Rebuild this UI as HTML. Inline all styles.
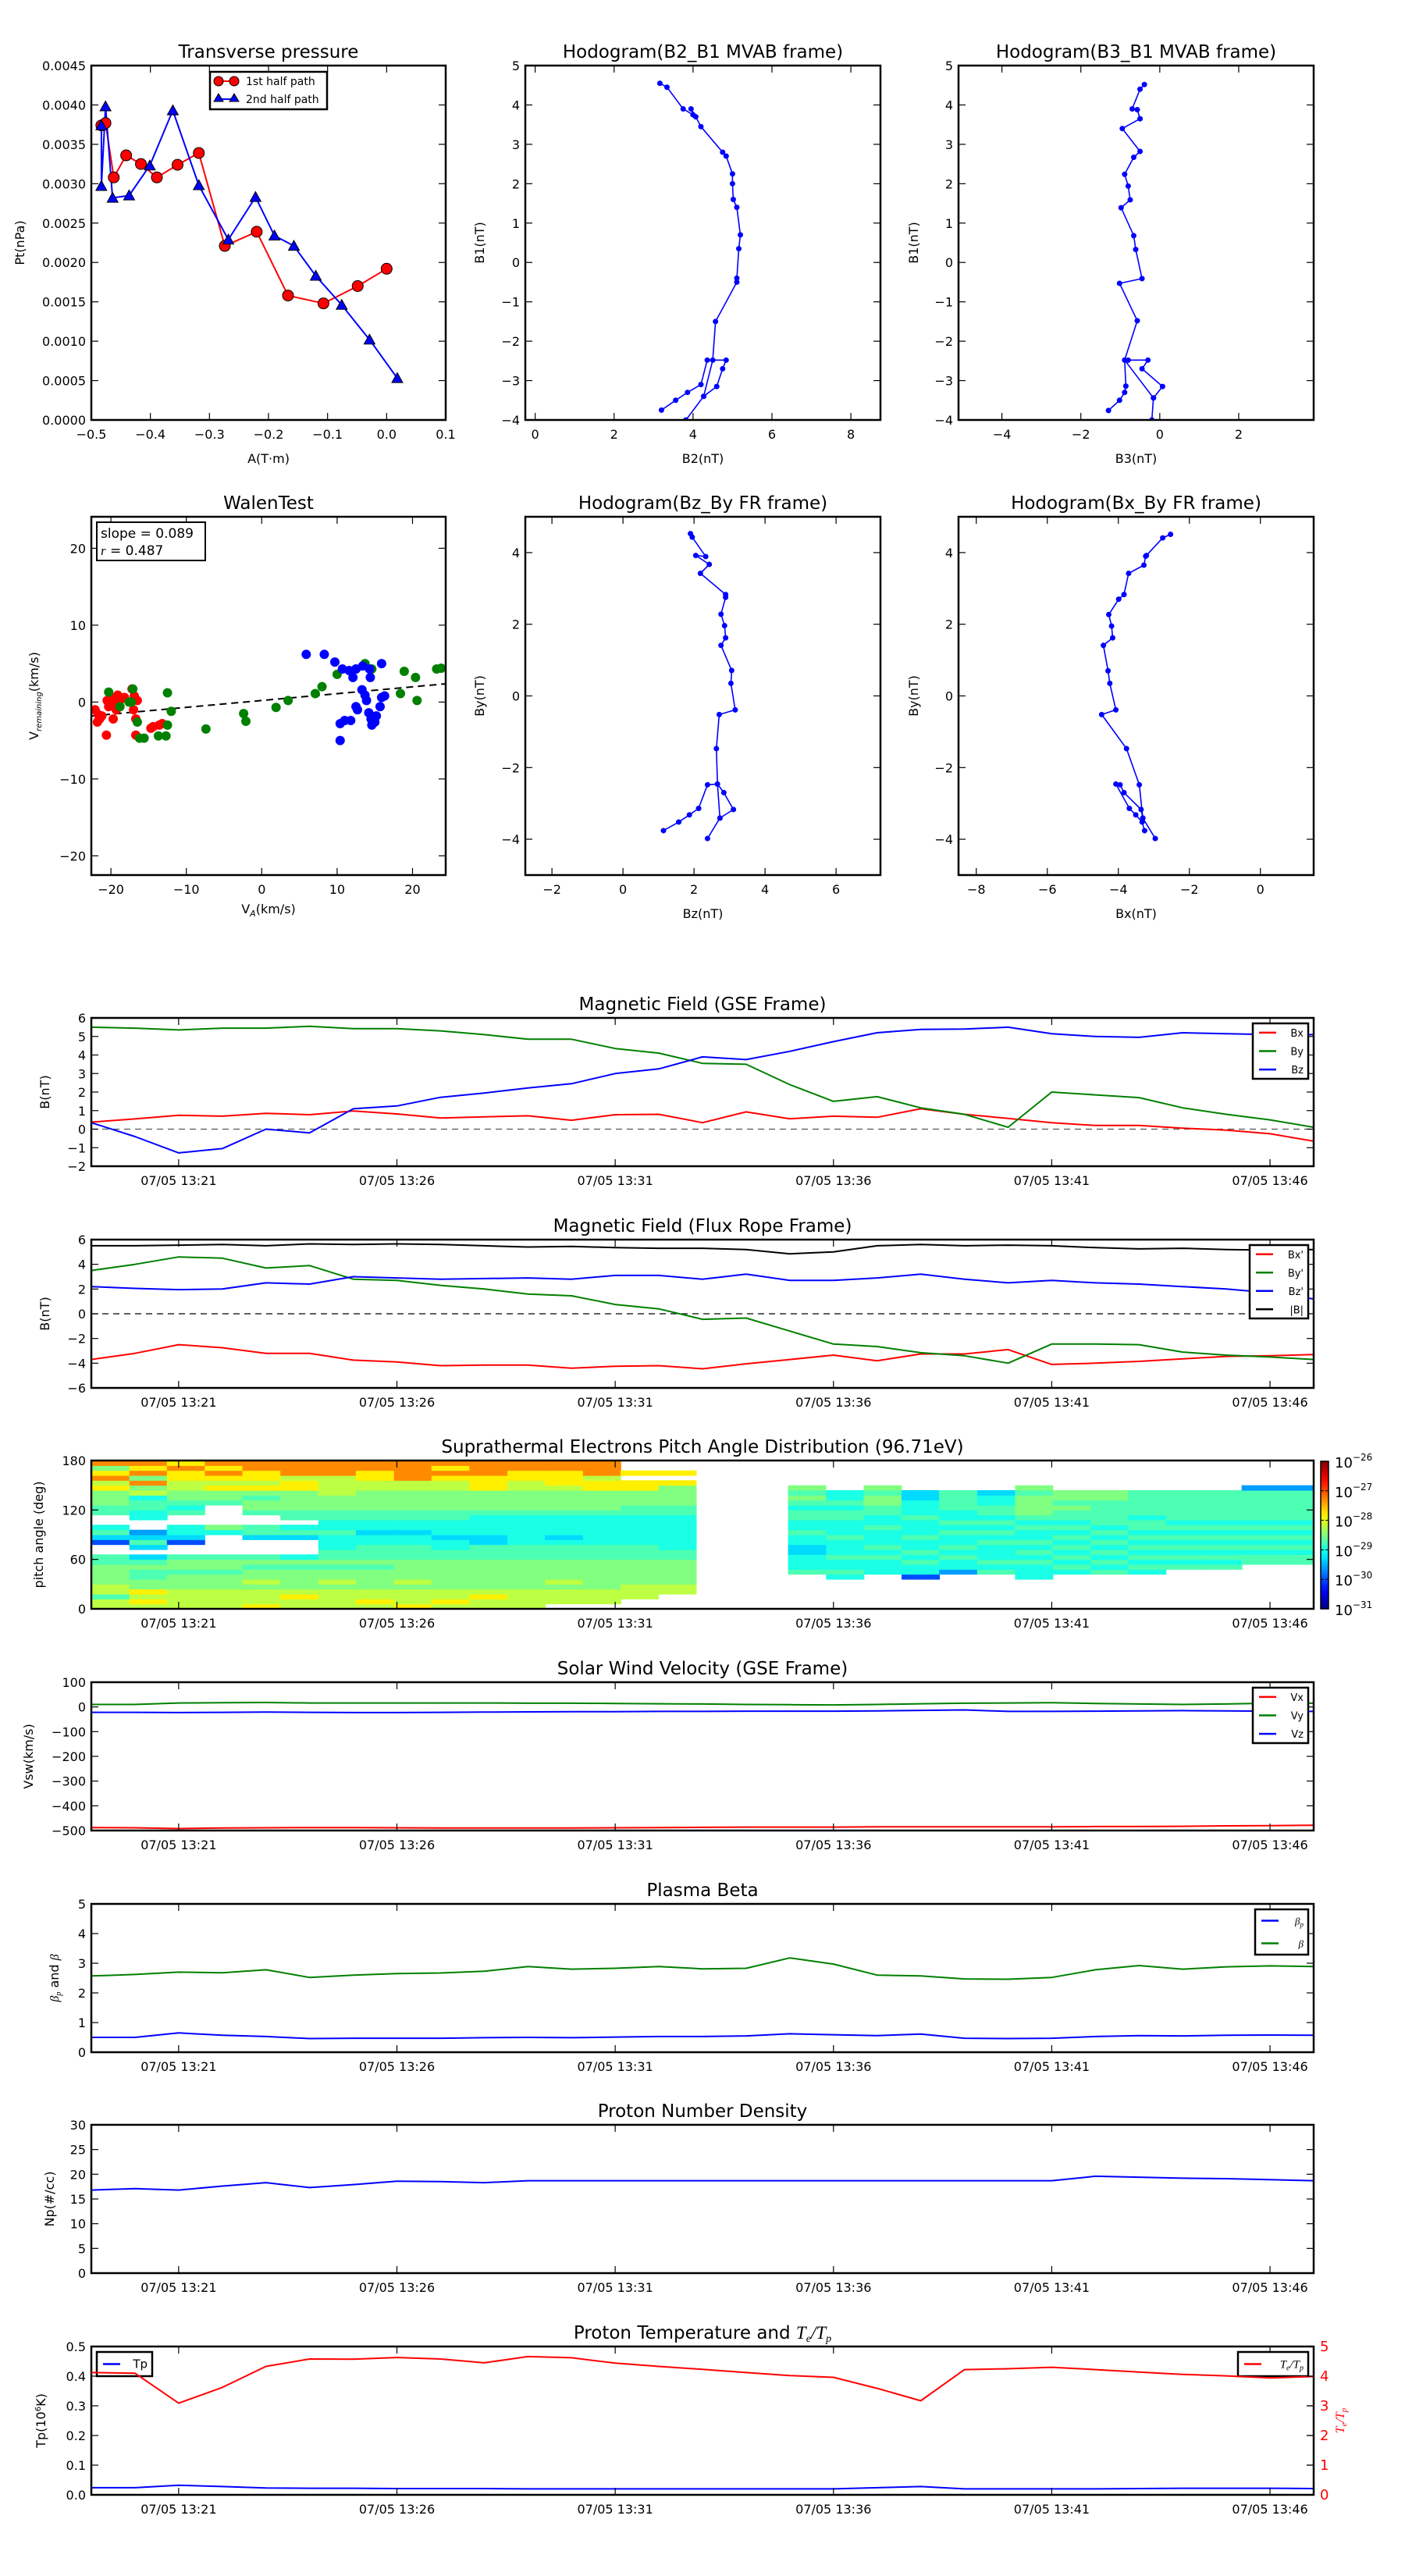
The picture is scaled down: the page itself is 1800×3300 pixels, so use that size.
<!DOCTYPE html>
<html><head><meta charset="utf-8"><title>Flux rope analysis</title>
<style>
html,body{margin:0;padding:0;background:#fff;}
svg{display:block;font-family:"DejaVu Sans","Liberation Sans",sans-serif;}
</style></head>
<body>
<svg id="chart" xmlns="http://www.w3.org/2000/svg" width="1800" height="3300" viewBox="0 0 1800 3300">
<defs>
<linearGradient id="jetgrad" x1="0" y1="1" x2="0" y2="0"></linearGradient>
</defs>
<rect x="0" y="0" width="1800" height="3300" fill="#fff"/>
</svg>
<script>
// ===================== DATA =====================
// Transverse pressure
const tpRedA=[-0.483,-0.476,-0.462,-0.441,-0.416,-0.389,-0.354,-0.318,-0.274,-0.220,-0.167,-0.107,-0.049,0.000];
const tpRedP=[0.00374,0.00377,0.00308,0.00336,0.00325,0.00308,0.00324,0.00339,0.00221,0.00239,0.00158,0.00148,0.00170,0.00192];
const tpBlueA=[0.018,-0.029,-0.076,-0.120,-0.157,-0.190,-0.222,-0.268,-0.318,-0.362,-0.401,-0.436,-0.464,-0.476,-0.483,-0.483];
const tpBlueP=[0.00053,0.00102,0.00146,0.00183,0.00221,0.00234,0.00283,0.00229,0.00298,0.00393,0.00323,0.00285,0.00282,0.00398,0.00297,0.00374];
// Hodogram B2-B1
const h1X=[3.2,3.56,3.86,4.2,4.36,4.84,4.75,4.6,4.27,3.82,4.27,4.5,4.57,5.11,5.11,5.16,5.2,5.11,5.02,5.0,5.0,4.84,4.75,4.2,4.07,3.95,4.0,3.75,3.34,3.16];
const h1Y=[-3.75,-3.5,-3.3,-3.1,-2.48,-2.48,-2.7,-3.15,-3.4,-4.0,-3.4,-2.48,-1.5,-0.5,-0.4,0.35,0.7,1.4,1.6,2.0,2.25,2.7,2.8,3.45,3.7,3.9,3.75,3.9,4.45,4.55];
// Hodogram B3-B1
const h2X=[-1.3,-1.02,-0.89,-0.86,-0.89,-0.8,-0.3,-0.45,0.07,-0.16,-0.2,-0.16,-0.89,-0.57,-1.02,-0.45,-0.61,-0.66,-0.98,-0.75,-0.8,-0.89,-0.66,-0.5,-0.95,-0.5,-0.57,-0.7,-0.5,-0.39];
const h2Y=[-3.76,-3.5,-3.3,-3.14,-2.48,-2.48,-2.48,-2.7,-3.15,-3.44,-4.0,-3.44,-2.48,-1.48,-0.53,-0.41,0.33,0.68,1.39,1.59,1.94,2.24,2.67,2.82,3.4,3.65,3.88,3.9,4.4,4.52];
// Walen test
const walRedX=[-22.1,-21.7,-21.5,-21.8,-21.2,-20.5,-20.0,-19.6,-19.1,-18.8,-20.6,-19.7,-17.2,-16.9,-16.5,-17.0,-16.7,-16.7,-14.7,-14.4,-13.6,-13.2,-20.3,-19.3,-18.2];
const walRedY=[-1.0,-1.6,-2.2,-2.6,-1.8,0.2,0.6,-0.2,0.9,0.2,-4.3,-2.2,1.7,0.8,0.2,-1.0,-2.2,-4.3,-3.4,-3.2,-3.0,-2.8,-0.6,-1.0,0.6];
const walGreenX=[-20.3,-18.8,-17.1,-17.3,-16.5,-16.2,-15.6,-13.7,-12.7,-12.5,-12.5,-12.0,-7.4,-2.4,-2.1,1.9,3.5,7.1,8.0,10.0,12.5,13.7,14.6,18.4,18.9,20.4,20.6,23.2,23.8,-17.6];
const walGreenY=[1.3,-0.6,1.7,0.0,-2.6,-4.7,-4.7,-4.4,-4.4,-3.0,1.2,-1.2,-3.5,-1.5,-2.5,-0.7,0.2,1.1,2.0,3.6,4.3,5.0,4.3,1.1,4.0,3.2,0.2,4.3,4.4,0.0];
const walBlueX=[5.9,8.3,9.7,10.7,11.6,12.1,12.5,13.4,14.3,14.4,15.9,10.4,11.0,11.8,13.3,13.7,14.2,14.5,15.0,15.2,15.7,15.9,16.3,12.7,10.4,12.5,13.9,14.6];
const walBlueY=[6.2,6.2,5.2,4.3,4.1,3.2,4.3,4.7,4.3,3.2,5.0,-2.8,-2.4,-2.4,1.6,0.9,-1.4,-2.2,-2.6,-1.8,-0.6,0.6,0.8,-1.0,-5.0,-0.6,0.2,-3.0];
const walSlope=0.089, walIntercept=0.2;
// Hodogram Bz-By (FR)
const h3X=[1.14,1.57,1.87,2.13,2.38,2.66,2.84,3.11,2.73,2.38,2.73,2.66,2.63,2.71,3.16,3.04,3.06,2.76,2.89,2.86,2.76,2.89,2.89,2.18,2.43,2.05,2.33,1.95,1.9];
const h3Y=[-3.76,-3.52,-3.32,-3.14,-2.48,-2.46,-2.7,-3.17,-3.41,-3.98,-3.41,-2.46,-1.47,-0.52,-0.39,0.35,0.71,1.41,1.62,1.96,2.28,2.75,2.83,3.42,3.67,3.92,3.89,4.43,4.53];
// Hodogram Bx-By (FR)
const h4X=[-3.26,-3.33,-3.51,-3.69,-4.07,-3.95,-3.84,-3.36,-3.31,-2.96,-3.31,-3.41,-3.77,-4.47,-4.07,-4.24,-4.29,-4.42,-4.16,-4.19,-4.27,-3.99,-3.84,-3.71,-3.28,-3.23,-3.21,-2.75,-2.53];
const h4Y=[-3.76,-3.52,-3.32,-3.14,-2.46,-2.48,-2.7,-3.17,-3.41,-3.98,-3.41,-2.48,-1.47,-0.52,-0.39,0.35,0.7,1.41,1.62,1.95,2.27,2.7,2.83,3.42,3.65,3.9,3.92,4.41,4.51];
// Time series: minutes since 13:19
const tMin=[0,1,2,3,4,5,6,7,8,9,10,11,12,13,14,15,16,17,18,19,20,21,22,23,24,25,26,27,28];
const timeTickMin=[2,7,12,17,22,27];
const timeTickLabels=["07/05 13:21","07/05 13:26","07/05 13:31","07/05 13:36","07/05 13:41","07/05 13:46"];
const gseBx=[0.38,0.55,0.75,0.7,0.85,0.78,0.98,0.82,0.6,0.66,0.72,0.48,0.78,0.8,0.35,0.93,0.56,0.7,0.64,1.1,0.8,0.58,0.35,0.2,0.2,0.05,-0.05,-0.25,-0.65];
const gseBy=[5.5,5.45,5.35,5.45,5.45,5.55,5.42,5.42,5.3,5.1,4.85,4.85,4.35,4.1,3.55,3.5,2.4,1.5,1.75,1.15,0.8,0.1,2.0,1.85,1.7,1.15,0.8,0.5,0.1];
const gseBz=[0.35,-0.4,-1.28,-1.05,0.0,-0.2,1.1,1.25,1.72,1.95,2.22,2.45,3.0,3.25,3.9,3.75,4.2,4.72,5.2,5.38,5.4,5.5,5.15,5.0,4.95,5.2,5.15,5.1,5.1];
const frBx=[-3.7,-3.2,-2.5,-2.75,-3.2,-3.2,-3.75,-3.9,-4.2,-4.15,-4.15,-4.4,-4.25,-4.2,-4.45,-4.05,-3.7,-3.35,-3.8,-3.25,-3.25,-2.9,-4.1,-4.0,-3.85,-3.65,-3.45,-3.4,-3.3];
const frBy=[3.5,4.0,4.6,4.5,3.7,3.9,2.8,2.7,2.3,2.0,1.6,1.45,0.75,0.4,-0.45,-0.35,-1.4,-2.45,-2.65,-3.15,-3.4,-4.0,-2.45,-2.45,-2.5,-3.1,-3.35,-3.5,-3.7];
const frBz=[2.2,2.05,1.95,2.0,2.5,2.4,3.0,2.9,2.8,2.85,2.9,2.8,3.1,3.1,2.8,3.2,2.7,2.7,2.9,3.2,2.8,2.5,2.7,2.5,2.4,2.2,2.0,1.7,1.2];
const frBt=[5.5,5.5,5.55,5.6,5.5,5.65,5.6,5.65,5.6,5.5,5.4,5.45,5.35,5.3,5.3,5.2,4.85,5.0,5.5,5.6,5.5,5.55,5.5,5.35,5.25,5.3,5.2,5.15,5.2];
// PAD: column start minutes and level codes (bins 0..29 = 0..180 deg, 6 deg each)
const padStart=[0,0.87,1.73,2.6,3.46,4.33,5.2,6.06,6.93,7.79,8.66,9.53,10.39,11.26,12.12,12.99,15.96,16.83,17.69,18.56,19.42,20.29,21.16,22.02,22.89,23.75,24.62,25.49,26.35,27.22];
const padWidth=0.866;
const padLevelLog=[null,-30.0,-29.6,-29.3,-29.0,-28.75,-28.5,-28.2,-27.8,-27.3];
const padCodes=[
"775776666550013540055666879869","787866556530353200445547696989","777766656650013440054566778898",
"777766656650000460000566878989","877767665650003550056656878899","778766665640003540556666887999",
"777767665655444544556667777999","787766665655544344556666778899","877767666655544344556666779999",
"787766666655443444556666778989","778766666655533444456666888999","777766666655544444456666778899",
"077767666655543444456666788899","077766666655544444456666887999","007776666655544444455666880800",
"000776666655444444455666680800",
"000000054443344544554565600000","000000454454445444554544000000","000000044454544454455665600000",
"000000144545445444544433000000","000000024454544545445555000000","000000054544454545455443000000",
"000000444545454454566665600000","000000045454545454556566000000","000000054545454545555566000000",
"000000045454545455455555000000","000000005454545454555555000000","000000005454545454555555000000",
"000000000554545454555555200000","000000000554545454555555200000"];
const cbTicks=[-31,-30,-29,-28,-27,-26];
// Velocity
const vx=[-488,-489,-492,-490,-489,-488,-488,-489,-490,-490,-490,-490,-489,-488,-487,-486,-486,-486,-485,-485,-485,-485,-485,-484,-484,-483,-481,-480,-479];
const vy=[10,10,16,17,18,16,16,16,16,16,15,15,14,13,12,10,9,8,10,13,15,16,17,14,12,10,12,15,15];
const vz=[-22,-22,-23,-22,-21,-22,-23,-23,-22,-21,-20,-19,-19,-18,-18,-17,-17,-17,-16,-14,-12,-18,-18,-17,-16,-15,-16,-17,-18];
// Beta
const betaTot=[2.57,2.62,2.70,2.68,2.78,2.52,2.60,2.65,2.67,2.73,2.89,2.80,2.83,2.89,2.81,2.83,3.18,2.97,2.60,2.57,2.47,2.46,2.52,2.78,2.92,2.80,2.88,2.91,2.89];
const betaP=[0.5,0.5,0.65,0.57,0.53,0.46,0.47,0.47,0.47,0.49,0.5,0.49,0.51,0.53,0.53,0.55,0.62,0.59,0.56,0.61,0.47,0.46,0.47,0.53,0.56,0.55,0.57,0.58,0.57];
// Density
const np=[16.8,17.1,16.8,17.6,18.3,17.3,17.9,18.6,18.5,18.3,18.7,18.7,18.7,18.7,18.7,18.7,18.7,18.7,18.7,18.7,18.7,18.7,18.7,19.6,19.4,19.2,19.1,18.9,18.7];
// Temperature
const tp=[0.024,0.024,0.032,0.028,0.023,0.022,0.022,0.021,0.021,0.021,0.02,0.02,0.02,0.02,0.02,0.02,0.02,0.02,0.024,0.028,0.02,0.02,0.02,0.02,0.021,0.022,0.022,0.022,0.021];
const teTp=[4.12,4.10,3.09,3.62,4.33,4.58,4.57,4.63,4.58,4.45,4.66,4.62,4.44,4.33,4.23,4.12,4.02,3.96,3.59,3.17,4.22,4.25,4.30,4.22,4.14,4.06,4.01,3.94,3.99];

// ===================== HELPERS =====================
const NS='http://www.w3.org/2000/svg';
const svg=document.getElementById('chart');
function el(tag,attrs,parent){const e=document.createElementNS(NS,tag);for(const k in attrs)e.setAttribute(k,attrs[k]);(parent||svg).appendChild(e);return e;}
function fmtNum(v,d){let s=v.toFixed(d);if(s.charAt(0)==='-')s='\u2212'+s.slice(1);return s;}
let clipId=0;
function makeAxes(name,x0,y0,x1,y1,xl,yl){
  const g=el('g',{});
  
  
  const cid='clip'+(clipId++);
  const cp=el('clipPath',{id:cid},svg.querySelector('defs'));
  el('rect',{x:x0,y:y0,width:x1-x0,height:y1-y0},cp);
  const inner=el('g',{'clip-path':'url(#'+cid+')'},g);
  const sx=v=>x0+(v-xl[0])/(xl[1]-xl[0])*(x1-x0);
  const sy=v=>y1-(v-yl[0])/(yl[1]-yl[0])*(y1-y0);
  return {g,inner,sx,sy,x0,x1,y0,y1};
}
function frame(A){
  const r=el('rect',{x:A.x0,y:A.y0,width:A.x1-A.x0,height:A.y1-A.y0,fill:'none',stroke:'#000','stroke-width':2.5},A.g);
  
  
}
function xTicks(A,vals,labels,fs,col){
  vals.forEach((v,i)=>{const x=A.sx(v);
    el('line',{x1:x,x2:x,y1:A.y1,y2:A.y1-9,stroke:'#000','stroke-width':1.2},A.g);
    el('line',{x1:x,x2:x,y1:A.y0,y2:A.y0+9,stroke:'#000','stroke-width':1.2},A.g);
    const t=el('text',{x:x,y:A.y1+24,'text-anchor':'middle','font-size':fs||16,fill:col||'#000'},A.g);
    t.textContent=labels[i];
    
    
  });
}
function yTicks(A,vals,labels,fs,right,col){
  vals.forEach((v,i)=>{const y=A.sy(v);
    if(!right){el('line',{x1:A.x0,x2:A.x0+9,y1:y,y2:y,stroke:'#000','stroke-width':1.2},A.g);}
    el('line',{x1:A.x1,x2:A.x1-9,y1:y,y2:y,stroke:'#000','stroke-width':1.2},A.g);
    const t=el('text',{x:right?A.x1+8:A.x0-7,y:y+6,'text-anchor':right?'start':'end','font-size':fs||16,fill:col||'#000'},A.g);
    t.textContent=labels[i];
    
    
  });
}
function title(A,txt){const t=el('text',{x:(A.x0+A.x1)/2,y:A.y0-10,'text-anchor':'middle','font-size':23},A.g);t.innerHTML=txt;
  
  return t;}
function xlabel(A,txt,y){const t=el('text',{x:(A.x0+A.x1)/2,y:y,'text-anchor':'middle','font-size':16},A.g);t.innerHTML=txt;
  
  }
function ylabel(A,txt,x,col,fs){const cy=(A.y0+A.y1)/2;const t=el('text',{x:x,y:cy,'text-anchor':'middle','font-size':fs||16,fill:col||'#000',transform:'rotate(-90 '+x+' '+cy+')'},A.g);t.innerHTML=txt;
  
  }
function line(A,xs,ys,color,name,w){const d=xs.map((x,i)=>(i?'L':'M')+A.sx(x).toFixed(1)+' '+A.sy(ys[i]).toFixed(1)).join(' ');
  const p=el('path',{d:d,fill:'none',stroke:color,'stroke-width':w||2,'stroke-linejoin':'round'},A.inner);
  
  return p;}
function dots(A,xs,ys,color,r,name,stroke){xs.forEach((x,i)=>{const c=el('circle',{cx:A.sx(x),cy:A.sy(ys[i]),r:r,fill:color,stroke:stroke||'none','stroke-width':1},A.inner);
  
  });}
function tris(A,xs,ys,color,s,name){xs.forEach((x,i)=>{const cx=A.sx(x),cy=A.sy(ys[i]);
  const p=el('path',{d:'M'+cx+' '+(cy-s)+' L'+(cx+s)+' '+(cy+s*0.8)+' L'+(cx-s)+' '+(cy+s*0.8)+' Z',fill:color,stroke:'#000','stroke-width':1},A.inner);
  
  });}
function hline(A,v,color,dash){const l=el('line',{x1:A.x0,x2:A.x1,y1:A.sy(v),y2:A.sy(v),stroke:color,'stroke-width':1.3,'stroke-dasharray':dash},A.inner);
  
  }
function legend(A,x,y,w,h,items,fs){const g=el('g',{},A.g);
  
  
  el('rect',{x:x,y:y,width:w,height:h,fill:'#fff',stroke:'#000','stroke-width':2.5},g);
  const step=h/items.length;
  items.forEach((it,i)=>{const cy=y+step*(i+0.5);
    const l=el('line',{x1:x+8,x2:x+30,y1:cy,y2:cy,stroke:it.c,'stroke-width':2.5},g);
    
    
    const t=el('text',{x:x+w-6,y:cy+5,'text-anchor':'end','font-size':fs||13},g);t.innerHTML=it.t;
    
    });}
function rng(a,b,s){const r=[];for(let v=a;v<=b+1e-9;v+=s)r.push(+v.toFixed(6));return r;}
function jet(x){x=Math.max(0,Math.min(1,x));const c=v=>Math.round(255*Math.max(0,Math.min(1,v)));
  return 'rgb('+c(1.5-Math.abs(4*x-3))+','+c(1.5-Math.abs(4*x-2))+','+c(1.5-Math.abs(4*x-1))+')';}

// ===================== TOP ROW =====================
const colX=[[117,571],[673,1128],[1228,1683]];
const row1=[84,538], row2=[662,1121];

// Transverse pressure
(function(){
  const A=makeAxes('transverse-pressure-chart',117,84,571,538,[-0.5,0.1],[0,0.0045]);
  line(A,tpRedA,tpRedP,'#ff0000','first-half-path-line',2);
  line(A,tpBlueA,tpBlueP,'#0000ff','second-half-path-line',2);
  dots(A,tpRedA,tpRedP,'#ff0000',7,'first-half-point','#000');
  tris(A,tpBlueA,tpBlueP,'#0000ff',7,'second-half-point');
  frame(A);
  const xv=rng(-0.5,0.1,0.1);xTicks(A,xv,xv.map(v=>fmtNum(v,1)));
  const yv=rng(0,0.0045,0.0005);yTicks(A,yv,yv.map(v=>v.toFixed(4)));
  title(A,'Transverse pressure');xlabel(A,'A(T\u00b7m)',593);ylabel(A,'Pt(nPa)',31);
  const g=el('g',{},A.g);
  
  
  el('rect',{x:269,y:92,width:150,height:48,fill:'#fff',stroke:'#000','stroke-width':2.5},g);
  el('line',{x1:280,x2:300,y1:104,y2:104,stroke:'#f00','stroke-width':2},g);
  el('circle',{cx:280,cy:104,r:6,fill:'#f00',stroke:'#000'},g);el('circle',{cx:300,cy:104,r:6,fill:'#f00',stroke:'#000'},g);
  el('line',{x1:280,x2:300,y1:127,y2:127,stroke:'#00f','stroke-width':2},g);
  el('path',{d:'M280 120 L286 130 L274 130Z',fill:'#00f',stroke:'#000'},g);el('path',{d:'M300 120 L306 130 L294 130Z',fill:'#00f',stroke:'#000'},g);
  const t1=el('text',{x:315,y:109,'font-size':14},g);t1.textContent='1st half path';
  
  
  const t2=el('text',{x:315,y:132,'font-size':14},g);t2.textContent='2nd half path';
  
  
})();

function hodo(name,cx,ry,xl,yl,xs,ys,xv,yv,ttl,xlab,ylab,ylx){
  const A=makeAxes(name,cx[0],ry[0],cx[1],ry[1],xl,yl);
  line(A,xs,ys,'#0000ff','hodogram-line',1.6);
  dots(A,xs,ys,'#0000ff',3.5,'hodogram-point');
  frame(A);
  xTicks(A,xv,xv.map(v=>fmtNum(v,0)));yTicks(A,yv,yv.map(v=>fmtNum(v,0)));
  title(A,ttl);xlabel(A,xlab,ry[1]+55);ylabel(A,ylab,ylx);
  return A;
}
hodo('hodogram-b2-b1-chart',colX[1],row1,[-0.25,8.75],[-4,5],h1X,h1Y,[0,2,4,6,8],rng(-4,5,1),'Hodogram(B2_B1 MVAB frame)','B2(nT)','B1(nT)',620);
hodo('hodogram-b3-b1-chart',colX[2],row1,[-5.1,3.9],[-4,5],h2X,h2Y,[-4,-2,0,2],rng(-4,5,1),'Hodogram(B3_B1 MVAB frame)','B3(nT)','B1(nT)',1176);
hodo('hodogram-bz-by-chart',colX[1],row2,[-2.75,7.25],[-5,5],h3X,h3Y,[-2,0,2,4,6],[-4,-2,0,2,4],'Hodogram(Bz_By FR frame)','Bz(nT)','By(nT)',620);
hodo('hodogram-bx-by-chart',colX[2],row2,[-8.5,1.5],[-5,5],h4X,h4Y,[-8,-6,-4,-2,0],[-4,-2,0,2,4],'Hodogram(Bx_By FR frame)','Bx(nT)','By(nT)',1176);

// Walen test
(function(){
  const A=makeAxes('walen-test-chart',117,662,571,1121,[-22.6,24.4],[-22.5,24.1]);
  const fx=[-22.6,24.4];const fy=fx.map(x=>walSlope*x+walIntercept);
  const l=line(A,fx,fy,'#000','fit-line',2);l.setAttribute('stroke-dasharray','9 6');
  dots(A,walRedX,walRedY,'#ff0000',6,'walen-red-point');
  dots(A,walGreenX,walGreenY,'#008000',6,'walen-green-point');
  dots(A,walBlueX,walBlueY,'#0000ff',6,'walen-blue-point');
  frame(A);
  xTicks(A,[-20,-10,0,10,20],['\u221220','\u221210','0','10','20']);
  yTicks(A,[-20,-10,0,10,20],['\u221220','\u221210','0','10','20']);
  title(A,'WalenTest');
  xlabel(A,'V<tspan font-style="italic" font-size="11" dy="4">A</tspan><tspan dy="-4">(km/s)</tspan>',1170);
  ylabel(A,'V<tspan font-style="italic" font-size="10" dy="4">remaining</tspan><tspan dy="-4">(km/s)</tspan>',49);
  const g=el('g',{},A.g);
  
  
  el('rect',{x:124,y:669,width:139,height:49,fill:'#fff',stroke:'#000','stroke-width':2},g);
  const t1=el('text',{x:129,y:689,'font-size':17},g);t1.textContent='slope = 0.089';
  const t2=el('text',{x:129,y:711,'font-size':17},g);t2.innerHTML='<tspan font-style="italic" font-family="Liberation Serif">r</tspan> = 0.487';
})();

// ===================== TIME SERIES =====================
const BX0=117,BX1=1683,PH=190;
const tops=[1304,1588,1871,2155,2439,2722,3006];
function tsAxes(name,i,yl){return makeAxes(name,BX0,tops[i],BX1,tops[i]+PH,[0,28],yl);}
function tsFinish(A,ttl,yv,ylabs,ylab,ylx){frame(A);xTicks(A,timeTickMin,timeTickLabels);yTicks(A,yv,ylabs);title(A,ttl);ylabel(A,ylab,ylx);}
const intLab=v=>fmtNum(v,0);

(function(){const A=tsAxes('magnetic-field-gse-chart',0,[-2,6]);
  hline(A,0,'#555','8 6');
  line(A,tMin,gseBx,'#ff0000','bx-line');line(A,tMin,gseBy,'#008000','by-line');line(A,tMin,gseBz,'#0000ff','bz-line');
  const yv=rng(-2,6,1);tsFinish(A,'Magnetic Field (GSE Frame)',yv,yv.map(intLab),'B(nT)',63);
  legend(A,1605,1311,71,71,[{c:'#f00',t:'Bx'},{c:'#008000',t:'By'},{c:'#00f',t:'Bz'}]);
})();
(function(){const A=tsAxes('magnetic-field-flux-rope-chart',1,[-6,6]);
  hline(A,0,'#000','8 6');
  line(A,tMin,frBx,'#ff0000','bx-prime-line');line(A,tMin,frBy,'#008000','by-prime-line');line(A,tMin,frBz,'#0000ff','bz-prime-line');line(A,tMin,frBt,'#000','b-magnitude-line');
  const yv=rng(-6,6,2);tsFinish(A,'Magnetic Field (Flux Rope Frame)',yv,yv.map(intLab),'B(nT)',63);
  legend(A,1601,1595,75,94,[{c:'#f00',t:"Bx'"},{c:'#008000',t:"By'"},{c:'#00f',t:"Bz'"},{c:'#000',t:'|B|'}]);
})();
(function(){const A=tsAxes('pitch-angle-distribution-chart',2,[0,180]);
  padCodes.forEach((col,ci)=>{
    for(let b=0;b<30;b++){const c=+col.charAt(b);if(!c)continue;
      const v=padLevelLog[c];const x=A.sx(padStart[ci]);const x2=A.sx(padStart[ci]+padWidth);
      const r=el('rect',{x:x.toFixed(1),y:A.sy(b*6+6).toFixed(1),width:(x2-x+0.6).toFixed(1),height:(A.sy(b*6)-A.sy(b*6+6)+0.6).toFixed(1),fill:jet((v+31)/5)},A.inner);
      
      
    }});
  tsFinish(A,'Suprathermal Electrons Pitch Angle Distribution (96.71eV)',[0,60,120,180],['0','60','120','180'],'pitch angle (deg)',55);
  // colorbar
  const gr=document.getElementById('jetgrad');
  for(let i=0;i<=20;i++){el('stop',{offset:(i/20),'stop-color':jet(i/20)},gr);}
  const cb=el('rect',{x:1692,y:1872,width:10,height:189,fill:'url(#jetgrad)',stroke:'#000','stroke-width':1.5});
  
  
  cbTicks.forEach(v=>{const y=2061-(v+31)/5*189;
    el('line',{x1:1692,x2:1696,y1:y,y2:y,stroke:'#000'});el('line',{x1:1698,x2:1702,y1:y,y2:y,stroke:'#000'});
    const t=el('text',{x:1710,y:y+8,'font-size':18});t.innerHTML='10<tspan dy="-9" font-size="12">'+fmtNum(v,0)+'</tspan>';
    
    });
})();
(function(){const A=tsAxes('solar-wind-velocity-chart',3,[-500,100]);
  line(A,tMin,vx,'#ff0000','vx-line');line(A,tMin,vy,'#008000','vy-line');line(A,tMin,vz,'#0000ff','vz-line');
  const yv=rng(-500,100,100);tsFinish(A,'Solar Wind Velocity (GSE Frame)',yv,yv.map(intLab),'Vsw(km/s)',42);
  legend(A,1605,2162,71,71,[{c:'#f00',t:'Vx'},{c:'#008000',t:'Vy'},{c:'#00f',t:'Vz'}]);
})();
(function(){const A=tsAxes('plasma-beta-chart',4,[0,5]);
  line(A,tMin,betaP,'#0000ff','beta-p-line');line(A,tMin,betaTot,'#008000','beta-line');
  const yv=rng(0,5,1);tsFinish(A,'Plasma Beta',yv,yv.map(intLab),'<tspan font-style="italic" font-family="Liberation Serif">\u03b2<tspan font-size="10" dy="3">p</tspan></tspan><tspan dy="-3"> and </tspan><tspan font-style="italic" font-family="Liberation Serif">\u03b2</tspan>',75,13);
  legend(A,1608,2446,68,58,[{c:'#00f',t:'<tspan font-style="italic" font-family="Liberation Serif">\u03b2<tspan font-size="9" dy="3">p</tspan></tspan>'},{c:'#008000',t:'<tspan font-style="italic" font-family="Liberation Serif">\u03b2</tspan>'}]);
})();
(function(){const A=tsAxes('proton-density-chart',5,[0,30]);
  line(A,tMin,np,'#0000ff','np-line');
  const yv=rng(0,30,5);tsFinish(A,'Proton Number Density',yv,yv.map(intLab),'Np(#/cc)',69);
})();
(function(){const A=tsAxes('proton-temperature-chart',6,[0,0.5]);
  const B=makeAxes('te-tp-axis',BX0,tops[6],BX1,tops[6]+PH,[0,28],[0,5]);
  line(A,tMin,tp,'#0000ff','tp-line');line(B,tMin,teTp,'#ff0000','te-tp-line');
  const yv=rng(0,0.5,0.1);tsFinish(A,'Proton Temperature and <tspan font-style="italic" font-family="Liberation Serif">T<tspan font-size="14" dy="4">e</tspan><tspan dy="-4">/T</tspan><tspan font-size="14" dy="4">p</tspan></tspan>',yv,yv.map(v=>v.toFixed(1)),'Tp(10<tspan font-size="10" dy="-6">6</tspan><tspan dy="6">K)</tspan>',58);
  yTicks(B,rng(0,5,1),rng(0,5,1).map(intLab),18,true,'#ff0000');
  ylabel(B,'<tspan font-style="italic" font-family="Liberation Serif">T<tspan font-size="11" dy="3">e</tspan><tspan dy="-3">/T</tspan><tspan font-size="11" dy="3">p</tspan></tspan>',1722,'#ff0000');
  legend(A,124,3013,71,31,[{c:'#00f',t:'Tp'}],15);
  legend(A,1586,3013,90,31,[{c:'#f00',t:'<tspan font-style="italic" font-family="Liberation Serif">T<tspan font-size="10" dy="3">e</tspan><tspan dy="-3">/T</tspan><tspan font-size="10" dy="3">p</tspan></tspan>'}],15);
})();
</script>
</body></html>
